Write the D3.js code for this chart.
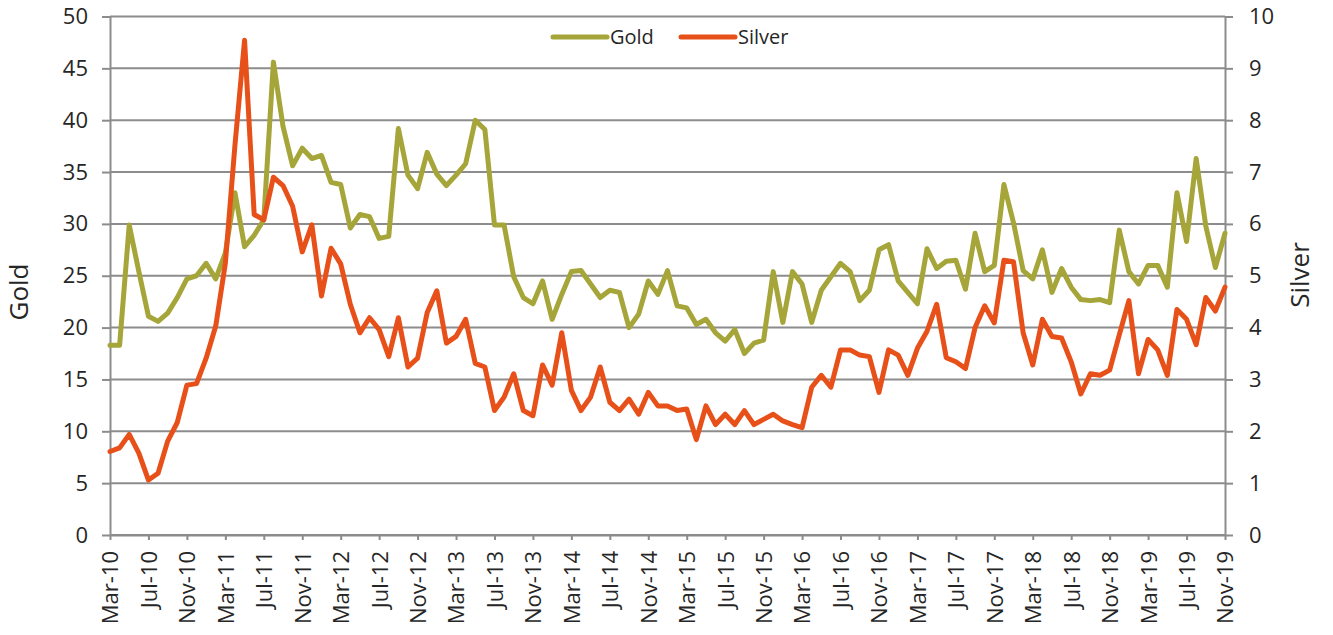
<!DOCTYPE html>
<html>
<head>
<meta charset="utf-8">
<script src="https://cdn.jsdelivr.net/npm/d3@7"></script>
<style>
  html, body { margin: 0; padding: 0; background: #fff; }
  svg { display: block; font-family: "Open Sans", "Liberation Sans", sans-serif; }
</style>
</head>
<body>
<svg id="chart" width="1333" height="635"></svg>
<script>
// ---- Data ----
const startMonth = new Date(2010, 2, 1);   // Mar-10
const endMonth = new Date(2019, 11, 1);    // exclusive -> last is Nov-19
const fmt = d3.timeFormat("%b-%y");
const months = d3.timeMonth.range(startMonth, endMonth).map(fmt);

const tickLabels = ["Mar-10","Jul-10","Nov-10","Mar-11","Jul-11","Nov-11","Mar-12","Jul-12","Nov-12","Mar-13","Jul-13","Nov-13","Mar-14","Jul-14","Nov-14","Mar-15","Jul-15","Nov-15","Mar-16","Jul-16","Nov-16","Mar-17","Jul-17","Nov-17","Mar-18","Jul-18","Nov-18","Mar-19","Jul-19","Nov-19"];

const gold = [18.3,18.3,29.9,25.4,21.1,20.6,21.4,22.9,24.7,25.0,26.2,24.7,27.2,33.0,27.8,28.9,30.4,45.6,39.4,35.6,
  37.3,36.3,36.6,34.0,33.8,29.6,30.9,30.7,28.6,28.8,39.2,34.7,33.4,36.9,34.8,33.7,34.7,35.8,40.0,39.1,
  29.9,29.9,24.9,22.9,22.3,24.5,20.8,23.2,25.4,25.5,24.2,22.9,23.6,23.4,20.0,21.3,24.5,23.2,25.5,22.1,
  21.9,20.3,20.8,19.5,18.7,19.8,17.5,18.5,18.8,25.4,20.5,25.4,24.2,20.5,23.6,24.9,26.2,25.4,22.6,23.6,
  27.5,28.0,24.5,23.4,22.3,27.6,25.7,26.4,26.5,23.7,29.1,25.4,26.0,33.8,30.1,25.5,24.7,27.5,23.4,25.7,
  23.9,22.7,22.6,22.7,22.4,29.4,25.4,24.2,26.0,26.0,23.9,33.0,28.3,36.3,29.8,25.8,29.1];

const silver = [1.61,1.68,1.94,1.58,1.06,1.19,1.81,2.17,2.89,2.92,3.41,4.03,5.24,7.52,9.54,6.18,6.08,6.90,6.74,6.34,
  5.46,5.98,4.61,5.53,5.23,4.45,3.90,4.19,3.96,3.44,4.19,3.24,3.41,4.29,4.71,3.70,3.83,4.16,3.31,3.24,
  2.40,2.66,3.11,2.40,2.30,3.28,2.89,3.90,2.79,2.40,2.66,3.24,2.56,2.40,2.62,2.33,2.75,2.49,2.49,2.40,
  2.43,1.84,2.49,2.13,2.33,2.13,2.40,2.13,2.23,2.33,2.20,2.13,2.07,2.85,3.08,2.85,3.57,3.57,3.47,3.44,
  2.75,3.57,3.47,3.08,3.60,3.93,4.45,3.42,3.34,3.21,4.00,4.42,4.09,5.30,5.27,3.90,3.28,4.16,3.83,3.80,
  3.34,2.72,3.11,3.08,3.18,3.86,4.52,3.11,3.77,3.57,3.08,4.35,4.16,3.67,4.58,4.32,4.78];

const leftTicks = [0,5,10,15,20,25,30,35,40,45,50];
const rightTicks = [0,1,2,3,4,5,6,7,8,9,10];
const seriesNames = ["Gold", "Silver"];
const seriesColors = ["#A5A53A", "#E8501A"];

// ---- Layout ----
const L = 110, R = 1225, T = 16.5, B = 535;
const gridColor = "#8c8c8c";
const textColor = "#262626";

const svg = d3.select("#chart");

const x = d3.scalePoint().domain(months).range([L, R]);
const yL = d3.scaleLinear().domain([0, 50]).range([B, T]);
const yR = d3.scaleLinear().domain([0, 10]).range([B, T]);

// gridlines
svg.append("g").selectAll("line").data(leftTicks).join("line")
  .attr("x1", L).attr("x2", R)
  .attr("y1", d => yL(d)).attr("y2", d => yL(d))
  .attr("stroke", gridColor).attr("stroke-width", 2);

function styleAxis(g) {
  g.selectAll("path.domain").attr("stroke", gridColor).attr("stroke-width", 2);
  g.selectAll(".tick line").attr("stroke", gridColor).attr("stroke-width", 2);
  g.selectAll(".tick text").attr("fill", textColor).style("font-size", "22px")
    .style("font-family", '"Open Sans", sans-serif');
}

// left axis
const gL = svg.append("g").attr("transform", `translate(${L},0)`)
  .call(d3.axisLeft(yL).tickValues(leftTicks).tickSize(8).tickSizeOuter(0).tickPadding(14));
styleAxis(gL);

// right axis
const gR = svg.append("g").attr("transform", `translate(${R},0)`)
  .call(d3.axisRight(yR).tickValues(rightTicks).tickSize(8).tickSizeOuter(0).tickPadding(16));
styleAxis(gR);

// bottom axis
const gB = svg.append("g").attr("transform", `translate(0,${B})`)
  .call(d3.axisBottom(x).tickValues(tickLabels).tickSize(5).tickSizeOuter(0));
styleAxis(gB);
gB.selectAll(".tick text")
  .attr("transform", "rotate(-90)")
  .attr("x", -16).attr("y", 0).attr("dy", "0.36em")
  .style("text-anchor", "end");

// lines
const series = [gold.map(v => yL(v)), silver.map(v => yR(v))];
const line = d3.line().x((d, i) => x(months[i])).y(d => d);
series.forEach((s, k) => {
  svg.append("path").datum(s)
    .attr("d", line)
    .attr("fill", "none")
    .attr("stroke", seriesColors[k])
    .attr("stroke-width", 5)
    .attr("stroke-linejoin", "round")
    .attr("stroke-linecap", "round");
});

// axis titles
svg.append("text")
  .attr("transform", `translate(28,292) rotate(-90)`)
  .attr("text-anchor", "middle")
  .attr("fill", textColor)
  .style("font-size", "26px")
  .text("Gold");
svg.append("text")
  .attr("transform", `translate(1309,275) rotate(-90)`)
  .attr("text-anchor", "middle")
  .attr("fill", textColor)
  .style("font-size", "26px")
  .text("Silver");

// legend
const legendX = [553, 681];
seriesNames.forEach((n, k) => {
  const g = svg.append("g").attr("transform", `translate(${legendX[k]},37)`);
  g.append("line").attr("x1", 0).attr("x2", 54).attr("y1", 0).attr("y2", 0)
    .attr("stroke", seriesColors[k]).attr("stroke-width", 5).attr("stroke-linecap", "round");
  g.append("text").attr("x", 57).attr("y", 0).attr("dy", "0.35em")
    .attr("fill", textColor).style("font-size", "20px").text(n);
});
</script>
</body>
</html>
